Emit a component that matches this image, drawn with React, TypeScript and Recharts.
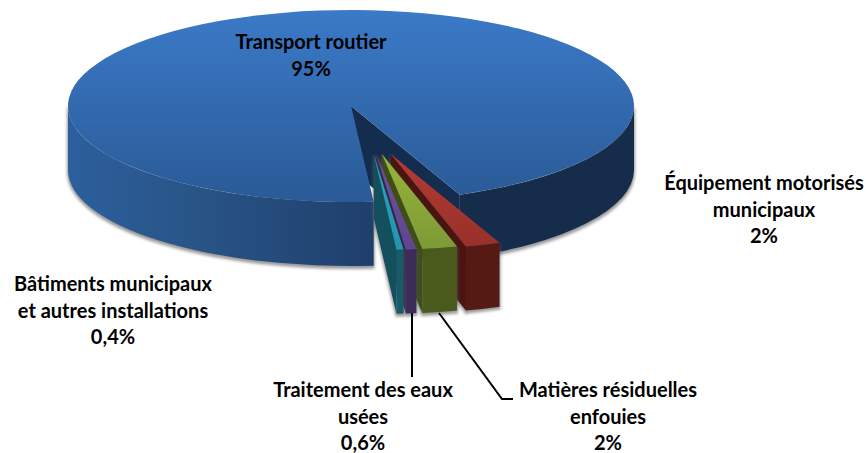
import React from 'react';
import { PieChart, Pie } from 'recharts';

const sliceNames = [
  'Transport routier',
  'Équipement motorisés municipaux',
  'Matières résiduelles enfouies',
  'Traitement des eaux usées',
  'Bâtiments municipaux et autres installations',
];
const sliceValues = [95, 2, 2, 0.6, 0.4];

const labelText = [
  ['Transport routier', '95%'],
  ['Équipement motorisés', 'municipaux', '2%'],
  ['Matières résiduelles', 'enfouies', '2%'],
  ['Traitement des eaux', 'usées', '0,6%'],
  ['Bâtiments municipaux', 'et autres installations', '0,4%'],
];

// top face (light, dark), rim, inner wall
const topLight = ['#3b7ac8', '#b53b32', '#95b43d', '#6c509e', '#28a6c0'];
const topDark = ['#2a5a96', '#98302a', '#7d9b36', '#5f4690', '#2295ad'];
const rimColors = ['url(#mainRim)', '#561a15', '#4a5a1d', '#3d2b59', '#175a6a'];
const wallColors = ['#142c4e', '#4a1410', '#3f4e18', '#34244d', '#144f5e'];

const labelCenters = [
  [311, 43],
  [764, 184],
  [608, 391],
  [363, 391],
  [113, 285],
];
const LINE_HEIGHT = 26.5;

const leaders: Record<number, string> = {
  2: '439,313 502,399 513,399',
  3: '412,313 412,377',
};

const CX = 351;
const CY = 106;
const RX = 283;
const RY = 96;
const DEPTH = 64;

const tableData = sliceNames.map((name, i) => ({ name, value: sliceValues[i], tone: i }));

const rad = (a: number) => (a * Math.PI) / 180;

const SliceShape = (props: any) => {
  const { cx, cy, outerRadius, startAngle, endAngle, tone } = props;
  const k = RY / RX;
  const mid = rad((startAngle + endAngle) / 2);
  // the pulled-out slices all sit lower by the same amount
  const ox = tone === 0 ? 0 : 16 + 73 * Math.cos(mid);
  const oy = tone === 0 ? 0 : 48;
  const ax = cx + ox;
  const ay = cy + oy;
  const pt = (a: number, d = 0) =>
    `${ax + outerRadius * Math.cos(rad(a))} ${ay - outerRadius * k * Math.sin(rad(a)) + d}`;
  const arc = (a: number, sweep: number, large = 0) =>
    `A ${outerRadius} ${outerRadius * k} 0 ${large} ${sweep} ${pt(a)}`;
  const arcD = (a: number, sweep: number) =>
    `A ${outerRadius} ${outerRadius * k} 0 0 ${sweep} ${pt(a, DEPTH)}`;

  // only the lower half of the rim faces the viewer
  const cuts = [startAngle, -180, -360, endAngle].filter((a) => a <= startAngle && a >= endAngle);
  const rims: string[] = [];
  for (let i = 0; i < cuts.length - 1; i++) {
    const hi = cuts[i];
    const lo = cuts[i + 1];
    if (Math.sin(rad((hi + lo) / 2)) < 0) {
      rims.push(`M ${pt(hi)} ${arc(lo, 1)} L ${pt(lo, DEPTH)} ${arcD(hi, 0)} Z`);
    }
  }
  const wall = `M ${ax} ${ay} L ${pt(endAngle)} L ${pt(endAngle, DEPTH)} L ${ax} ${ay + DEPTH} Z`;
  const large = startAngle - endAngle > 180 ? 1 : 0;
  const top = `M ${ax} ${ay} L ${pt(startAngle)} ${arc(endAngle, 1, large)} Z`;

  return (
    <g>
      <g filter="url(#softShadow)" transform="translate(0 2)" opacity={0.6}>
        {rims.map((d, i) => (
          <path key={i} d={d} fill="#555" stroke="#555" strokeWidth={2} />
        ))}
        {tone !== 0 && <path d={wall} fill="#555" stroke="#555" strokeWidth={2} />}
      </g>
      <path d={wall} fill={wallColors[tone]} />
      {rims.map((d, i) => (
        <path key={i} d={d} fill={rimColors[tone]} />
      ))}
      <path d={top} fill={`url(#top${tone})`} />
    </g>
  );
};

const SliceLabel = (props: any) => {
  const i = props.index;
  const [x, y] = labelCenters[i];
  return (
    <g>
      {leaders[i] && <polyline points={leaders[i]} fill="none" stroke="#000" strokeWidth={2} />}
      <text
        textAnchor="middle"
        fontFamily="Lato"
        fontWeight={700}
        fontSize={20}
        fill="#000"
      >
        {labelText[i].map((line, n) => (
          <tspan key={n} x={x} y={y + n * LINE_HEIGHT + 6}>
            {line}
          </tspan>
        ))}
      </text>
    </g>
  );
};

export default function App() {
  return (
    <div style={{ position: 'absolute', left: 0, top: 0, background: '#fff' }}>
      <PieChart width={866} height={453} margin={{ top: 0, right: 0, bottom: 0, left: 0 }}>
        <defs>
          {topLight.map((c, i) => (
            <linearGradient key={i} id={`top${i}`} x1="0" y1="0" x2="0" y2="1">
              <stop offset="0" stopColor={c} />
              <stop offset="1" stopColor={topDark[i]} />
            </linearGradient>
          ))}
          <linearGradient id="mainRim" gradientUnits="userSpaceOnUse" x1="68" y1="0" x2="634" y2="0">
            <stop offset="0" stopColor="#2c5f9d" />
            <stop offset="0.2" stopColor="#295689" />
            <stop offset="0.54" stopColor="#1f3f6b" />
            <stop offset="0.55" stopColor="#152c4b" />
            <stop offset="1" stopColor="#152c4b" />
          </linearGradient>
          <filter id="softShadow" x="-10%" y="-10%" width="120%" height="125%">
            <feGaussianBlur stdDeviation="1.8" />
          </filter>
        </defs>
        <Pie
          data={tableData}
          dataKey="value"
          nameKey="name"
          cx={CX}
          cy={CY}
          innerRadius={0}
          outerRadius={RX}
          startAngle={-85.4}
          endAngle={-445.4}
          stroke="none"
          shape={SliceShape}
          label={SliceLabel}
          labelLine={false}
          isAnimationActive={false}
        />
      </PieChart>
    </div>
  );
}
